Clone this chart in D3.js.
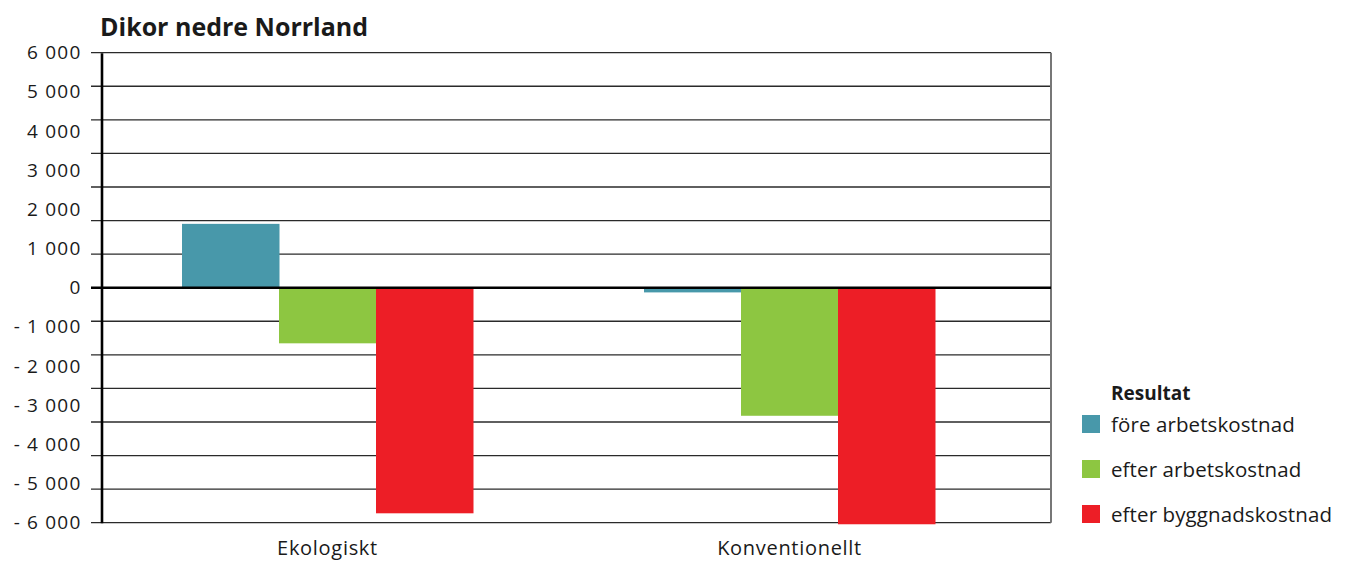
<!DOCTYPE html>
<html>
<head>
<meta charset="utf-8">
<script src="https://cdn.jsdelivr.net/npm/d3@7"></script>
<style>
  html, body { margin: 0; padding: 0; background: #fff; }
  svg { display: block; }
  text { font-family: "Open Sans", sans-serif; fill: #1a1a1a; }
</style>
</head>
<body>
<svg id="chart" width="1359" height="563"></svg>
<script>
// Result per cow, two production systems
const categories = ["Ekologiskt", "Konventionellt"];
const seriesNames = ["före arbetskostnad", "efter arbetskostnad", "efter byggnadskostnad"];
const foreArbetskostnad = [1630, -120];
const efterArbetskostnad = [-1420, -3270];
const efterByggnadskostnad = [-5760, -6040];
const yTicks = [6000, 5000, 4000, 3000, 2000, 1000, 0, -1000, -2000, -3000, -4000, -5000, -6000];
const colors = ["#4898aa", "#8dc641", "#ed1e26"];

const values = [foreArbetskostnad, efterArbetskostnad, efterByggnadskostnad];
const rows = categories.map((c, i) => ({
  category: c,
  bars: seriesNames.map((s, j) => ({ series: s, value: values[j][i] }))
}));

const svg = d3.select("#chart");
const plotLeft = 101.5, plotRight = 1051, plotTop = 52.7, plotBottom = 522.7;

const y = d3.scaleLinear().domain([-6000, 6000]).range([plotBottom, plotTop]);
const x = d3.scaleBand().domain(categories).range([96.5, 1020.5]).padding(0);
const groupWidth = 291;
const xs = d3.scaleBand().domain(seriesNames).range([0, groupWidth]).padding(0);

// horizontal rules: 14 even divisions of the value range
const gridVals = d3.range(15).map(k => 6000 - k * 12000 / 14);
svg.append("g")
  .selectAll("line")
  .data(gridVals)
  .join("line")
  .attr("x1", 91).attr("x2", plotRight)
  .attr("y1", d => y(d)).attr("y2", d => y(d))
  .attr("stroke", "#2a2a2a")
  .attr("stroke-width", 1.3);

// right frame edge
svg.append("line")
  .attr("x1", plotRight).attr("x2", plotRight)
  .attr("y1", plotTop).attr("y2", plotBottom)
  .attr("stroke", "#777").attr("stroke-width", 2);

// bars
const groups = svg.append("g")
  .selectAll("g")
  .data(rows)
  .join("g")
  .attr("transform", d => `translate(${x(d.category) + (x.bandwidth() - groupWidth) / 2},0)`);

groups.selectAll("rect")
  .data(d => d.bars)
  .join("rect")
  .attr("x", d => xs(d.series))
  .attr("width", xs.bandwidth() + 0.5)
  .attr("y", d => y(Math.max(0, d.value)))
  .attr("height", d => Math.abs(y(d.value) - y(0)))
  .attr("fill", (d, i) => colors[i]);

// zero line
svg.append("line")
  .attr("x1", 91).attr("x2", plotRight)
  .attr("y1", y(0)).attr("y2", y(0))
  .attr("stroke", "#000").attr("stroke-width", 2.4);

// y axis
const loc = d3.formatLocale({ decimal: ",", thousands: " ", grouping: [3], currency: ["", ""] });
const fmt = loc.format(",");
const yAxis = d3.axisLeft(y)
  .tickValues(yTicks)
  .tickSize(0)
  .tickPadding(20)
  .tickFormat(d => d < 0 ? "- " + fmt(-d) : fmt(d));

const yg = svg.append("g")
  .attr("transform", `translate(${plotLeft},0)`)
  .call(yAxis);
yg.select(".domain").attr("stroke", "#000").attr("stroke-width", 2.6);
yg.selectAll("text").attr("font-size", 19).attr("fill", "#1a1a1a")
  .attr("letter-spacing", 1.2)
  .style("font-family", "'Open Sans', sans-serif");

// category labels
const xAxis = d3.axisBottom(x).tickSize(0).tickPadding(18);
const xg = svg.append("g")
  .attr("transform", `translate(0,${plotBottom})`)
  .call(xAxis);
xg.select(".domain").remove();
xg.selectAll("text").attr("font-size", 20).attr("fill", "#1a1a1a")
  .attr("letter-spacing", 0.7)
  .style("font-family", "'Open Sans', sans-serif");

// title
svg.append("text")
  .attr("x", 100).attr("y", 36)
  .attr("font-size", 25).attr("font-weight", 700)
  .text("Dikor nedre Norrland");

// legend
const legend = svg.append("g").attr("transform", "translate(1082,0)");
legend.append("text")
  .attr("x", 29).attr("y", 400)
  .attr("font-size", 19).attr("font-weight", 700)
  .text("Resultat");
const items = legend.selectAll("g.item")
  .data(seriesNames)
  .join("g")
  .attr("class", "item")
  .attr("transform", (d, i) => `translate(0,${415 + i * 45})`);
items.append("rect")
  .attr("width", 18).attr("height", 18)
  .attr("fill", (d, i) => colors[i]);
items.append("text")
  .attr("x", 29).attr("y", 16.5)
  .attr("font-size", 20.5)
  .attr("letter-spacing", 0.1)
  .text(d => d);
</script>
</body>
</html>
